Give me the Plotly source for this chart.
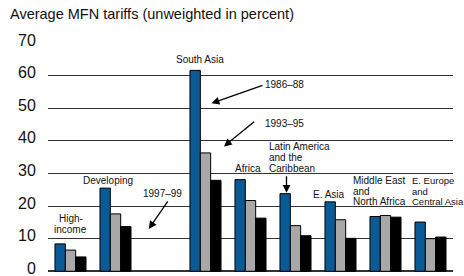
import plotly.graph_objects as go

# Data
regions = ["High-income", "Developing", "South Asia", "Africa",
           "Latin America and the Caribbean", "E. Asia",
           "Middle East and North Africa", "E. Europe and Central Asia"]
slots = [0, 1, 3, 4, 5, 6, 7, 8]  # slot 2 left empty as in the original
p1986_88 = [8.4, 25.5, 61.6, 28.1, 23.8, 21.3, 16.8, 15.1]
p1993_95 = [6.5, 17.6, 36.3, 21.7, 14.0, 15.8, 17.1, 10.0]
p1997_99 = [4.4, 13.7, 27.9, 16.3, 10.9, 10.1, 16.6, 10.5]
series_names = ["1986–88", "1993–95", "1997–99"]
colors = ["#0a5a96", "#a8a8a8", "#000000"]
yticks = [0, 10, 20, 30, 40, 50, 60, 70]

FONT = "Liberation Sans, Arial, Helvetica, sans-serif"

fig = go.Figure()
for name, vals, col in zip(series_names, [p1986_88, p1993_95, p1997_99], colors):
    fig.add_trace(go.Bar(x=slots, y=vals, name=name, marker_color=col,
                         marker_line_color="#000000", marker_line_width=1,
                         hoverinfo="skip"))

ann = []
def label(x, y, text, xanchor="center", size=10):
    ann.append(dict(x=x, y=y, xref="x", yref="y", text=text, showarrow=False,
                    xanchor=xanchor, yanchor="middle",
                    font=dict(family=FONT, size=size, color="#111")))

def block(x, ys, lines, xanchor="left", size=10):
    for y, t in zip(ys, lines):
        label(x, y, t, xanchor, size)

block(0.0, [16.3, 12.9], ["High-", "income"], "center")
label(0.83, 27.8, "Developing")
label(2.87, 65.0, "South Asia")
label(3.94, 31.6, "Africa")
block(4.37, [38.2, 34.8, 31.4], ["Latin America", "and the", "Caribbean"])
label(5.75, 23.7, "E. Asia")
block(6.24, [27.7, 24.35, 21.4], ["Middle East", "and", "North Africa"])
block(7.54, [27.7, 24.35, 21.4], ["E. Europe", "and", "Central Asia"], size=9.5)

label(4.28, 57.2, "1986–88", xanchor="left")
label(4.28, 45.2, "1993–95", xanchor="left")
label(2.05, 23.9, "1997–99")

def arrow(x, y, ax, ay):
    ann.append(dict(x=x, y=y, ax=ax, ay=ay, xref="x", yref="y", axref="x", ayref="y",
                    text="", showarrow=True, arrowhead=2, arrowsize=1.2,
                    arrowwidth=1.3, arrowcolor="#000", standoff=0, startstandoff=0))

arrow(3.135, 51.5, 4.30, 57.2)
arrow(3.41, 38.3, 4.115, 46.2)
arrow(1.74, 13.0, 2.185, 21.9)
arrow(4.80, 24.1, 4.80, 29.6)

fig.update_layout(
    width=464, height=276,
    margin=dict(l=48, r=11, t=43, b=2, autoexpand=False),
    paper_bgcolor="white", plot_bgcolor="white",
    barmode="group", bargap=0.31, bargroupgap=0,
    showlegend=False,
    font=dict(family=FONT, color="#111"),
    title=dict(text="Average MFN tariffs (unweighted in percent)",
               x=10/464, xanchor="left", xref="container",
               y=1-14/276, yanchor="middle", yref="container",
               font=dict(family=FONT, size=14.5, color="#111")),
    annotations=ann,
)
fig.update_xaxes(range=[-0.5, 8.5], showticklabels=False, showgrid=False,
                 zeroline=False, showline=False, ticks="", automargin=False)
fig.update_yaxes(range=[-0.83, 70], tickvals=yticks, showgrid=True,
                 gridcolor="#333333", gridwidth=1, zeroline=True,
                 zerolinecolor="#333333", zerolinewidth=1.5,
                 ticks="outside", ticklen=8, tickcolor="white",
                 ticklabeloverflow="allow", automargin=False,
                 ticklabelshift=-3,
                 tickfont=dict(family=FONT, size=16, color="#111"))

fig.write_html("out.html", config={"displayModeBar": False},
               post_script="document.body.style.margin='0';document.body.style.overflow='hidden';")
